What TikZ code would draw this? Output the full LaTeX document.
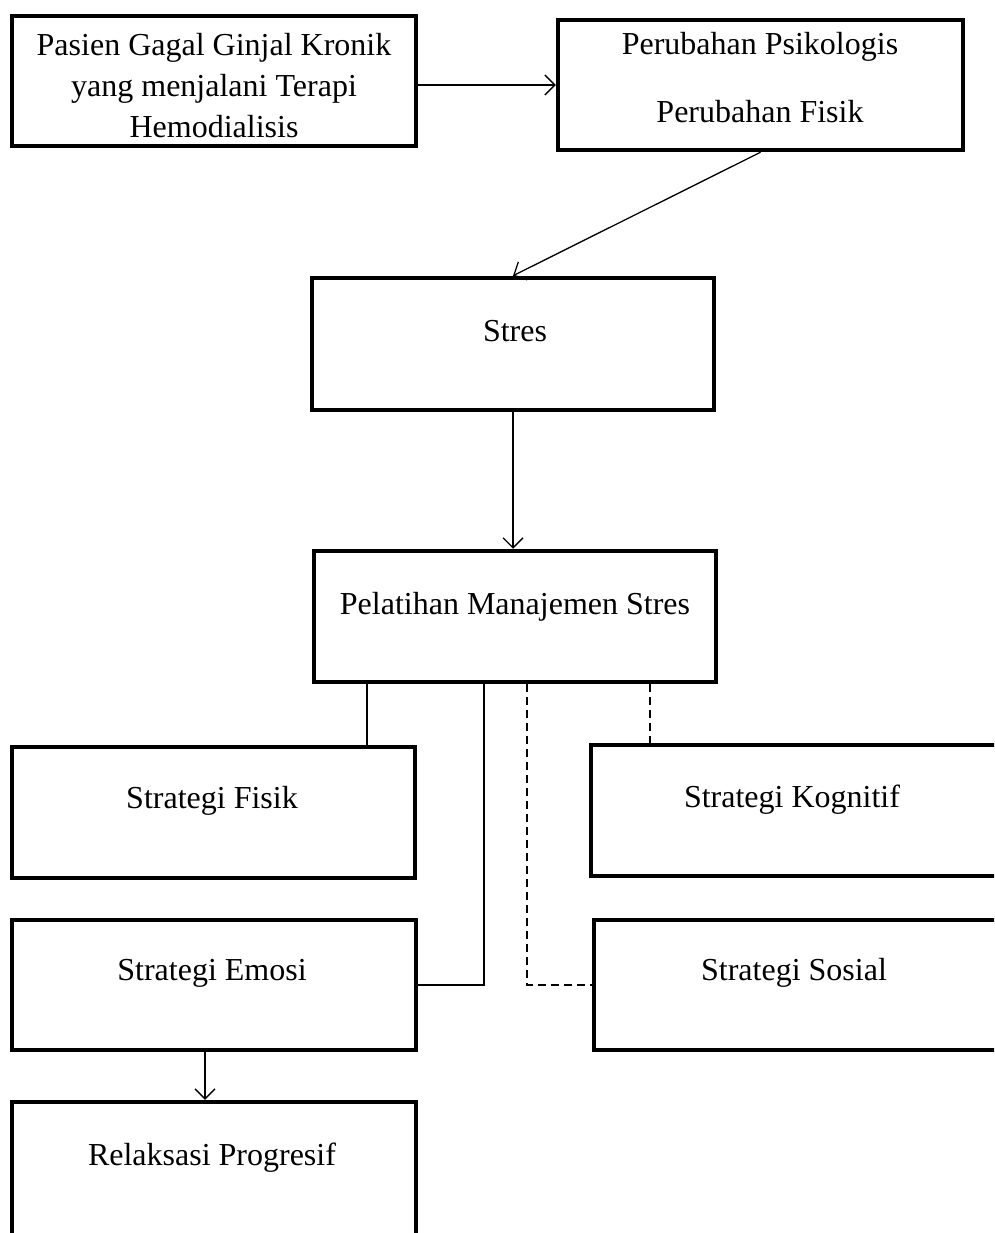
\documentclass[tikz,border=0pt]{standalone}
\usepackage{fontspec}
\setmainfont{Liberation Serif}
\usetikzlibrary{arrows.meta}
\begin{document}
\begin{tikzpicture}[x=1pt,y=-1pt,
  box/.style={draw,line width=4.5pt,rectangle,inner sep=0pt},
  mtxt/.style={font=\fontsize{32}{41}\selectfont,align=center,inner sep=0pt},
  txt/.style={mtxt,text height=22pt,text depth=7pt},
  conn/.style={line width=1.3pt},
  arr/.style={line width=1.3pt,-{Straight Barb[length=10pt,width=20pt,line width=1.3pt]}},
  dsh/.style={line width=1.3pt,dash pattern=on 8pt off 5pt}]
\useasboundingbox (0,0) rectangle (994,1233);
\clip (0,0) rectangle (994,1233);
% boxes
\node[box,minimum width=404pt,minimum height=130pt] (b1) at (214,81) {};
\node[box,minimum width=405pt,minimum height=130pt] (b2) at (760.5,85) {};
\node[box,minimum width=402pt,minimum height=132pt] (stres) at (513,344) {};
\node[box,minimum width=402pt,minimum height=131pt] (pel) at (515,616.5) {};
\node[box,minimum width=403pt,minimum height=131pt] (fisik) at (213.5,812.5) {};
\node[box,minimum width=404pt,minimum height=130pt] (emosi) at (214,985) {};
\node[box,minimum width=406pt,minimum height=131pt] (kog) at (794,810.5) {};
\node[box,minimum width=404pt,minimum height=130pt] (sos) at (796,985) {};
\node[box,minimum width=404pt,minimum height=138pt] (rel) at (214,1171) {};
% texts
\node[mtxt] (t1) at (214,86) {Pasien Gagal Ginjal Kronik\\yang menjalani Terapi\\Hemodialisis};
\node[mtxt,font=\fontsize{32}{68}\selectfont] (t2) at (760,78) {Perubahan Psikologis\\Perubahan Fisik};
\node[txt] (t3) at (515,334) {Stres};
\node[txt] (t4) at (515,607) {Pelatihan Manajemen Stres};
\node[txt] (t5) at (212,801) {Strategi Fisik};
\node[txt] (t6) at (212,973) {Strategi Emosi};
\node[txt] (t7) at (792,800) {Strategi Kognitif};
\node[txt] (t8) at (794,973) {Strategi Sosial};
\node[txt] (t9) at (212,1158) {Relaksasi Progresif};
% helper coordinates
\coordinate (c1) at (367,0);
\coordinate (c2) at (484,0);
\coordinate (c3) at (527,0);
\coordinate (c4) at (650,0);
\coordinate (c5) at (205,0);
% connectors
\draw[arr] (b1.east |- b2.west) -- (b2.west);
\draw[arr] (b2.south) -- (stres.north);
\draw[arr] (stres.south) -- (stres.south |- pel.north);
\draw[conn] (pel.south -| c1) -- (fisik.north -| c1);
\draw[conn] (pel.south -| c2) |- (emosi.east);
\draw[dsh] (pel.south -| c3) |- (sos.west);
\draw[dsh] (pel.south -| c4) -- (kog.north -| c4);
\draw[arr] (emosi.south -| c5) -- (rel.north -| c5);
\end{tikzpicture}
\end{document}
